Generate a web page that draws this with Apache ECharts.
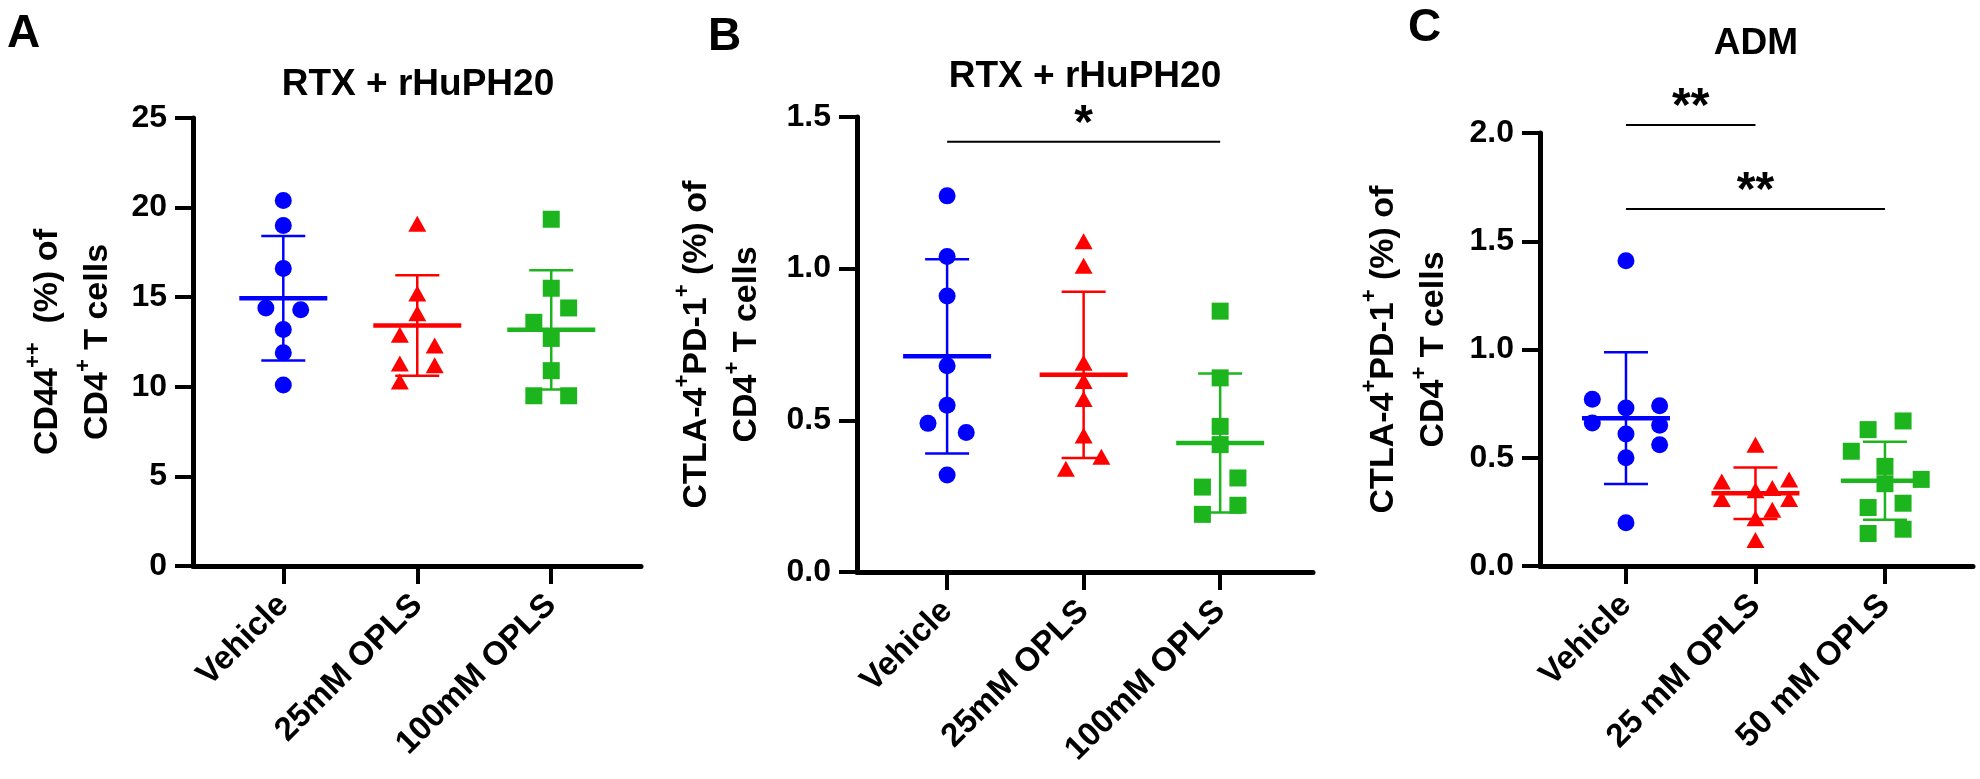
<!DOCTYPE html>
<html>
<head>
<meta charset="utf-8">
<script src="https://cdn.jsdelivr.net/npm/echarts@6/dist/echarts.min.js"></script>
<style>
  html, body { margin: 0; padding: 0; background: #fff; }
  #main { width: 1980px; height: 779px; }
</style>
</head>
<body>
<div id="main"></div>
<script>
"use strict";

// categories
const catsAB = ["Vehicle", "25mM OPLS", "100mM OPLS"];
const catsC = ["Vehicle", "25 mM OPLS", "50 mM OPLS"];

// panel A: CD44++ (%) of CD4+ T cells
const aVehicle = [20.4, 19.0, 16.6, 14.4, 14.3, 13.2, 11.9, 10.1];
const aVehicleJit = [0, 0, 0, -0.13, 0.13, 0, 0, 0];
const a25 = [19.1, 15.2, 14.1, 12.9, 12.3, 11.3, 11.2, 10.3];
const a25Jit = [0, 0, 0, -0.13, 0.13, -0.13, 0.13, -0.13];
const a100 = [19.35, 15.5, 14.4, 13.6, 12.7, 10.9, 9.5, 9.5];
const a100Jit = [0, 0, 0.13, -0.13, 0, 0, -0.13, 0.13];
const aMean = [14.94, 13.42, 13.18];
const aSd = [3.47, 2.81, 3.33];

// panel B: CTLA-4+PD-1+ (%) of CD4+ T cells
const bVehicle = [1.24, 1.04, 0.91, 0.68, 0.55, 0.49, 0.46, 0.32];
const bVehicleJit = [0, 0, 0, 0, 0, -0.14, 0.14, 0];
const b25 = [1.09, 1.01, 0.69, 0.63, 0.57, 0.45, 0.38, 0.34];
const b25Jit = [0, 0, 0, 0, 0, 0, 0.13, -0.13];
const b100 = [0.86, 0.64, 0.48, 0.42, 0.31, 0.28, 0.22, 0.19];
const b100Jit = [0, 0, 0, 0, 0.13, -0.13, 0.13, -0.13];
const bMean = [0.711, 0.65, 0.425];
const bSd = [0.32, 0.274, 0.229];

// panel C: ADM
const cVehicle = [1.41, 0.77, 0.66, 0.73, 0.61, 0.5, 0.2, 0.74, 0.65, 0.56];
const cVehicleJit = [0, -0.26, -0.26, 0, 0, 0, 0, 0.26, 0.26, 0.26];
const c25 = [0.56, 0.39, 0.31, 0.35, 0.22, 0.12, 0.36, 0.26, 0.4, 0.31];
const c25Jit = [0, -0.26, -0.26, 0, 0, 0, 0.13, 0.13, 0.26, 0.26];
const c50 = [0.67, 0.63, 0.53, 0.46, 0.38, 0.4, 0.27, 0.29, 0.17, 0.15];
const c50Jit = [0.14, -0.13, -0.26, 0, 0, 0.28, -0.13, 0.14, 0.14, -0.13];
const cMean = [0.683, 0.336, 0.394];
const cSd = [0.304, 0.119, 0.18];

// significance bars: [from, to, y, label]
const sigB = [[0, 2, 1.418, "*"]];
const sigC = [[0, 1, 2.037, "**"], [0, 2, 1.649, "**"]];

const colors = ["#0000ff", "#ff0000", "#1db51d"];
const symbols = ["circle", "triangle", "rect"];
const FONT = "'Liberation Sans', Arial, sans-serif";

let chartDom = document.getElementById("main");
let myChart = echarts.init(chartDom);

function points(vals, jit, idx) {
  return vals.map((v, i) => [idx + jit[i], v]);
}

function errorBars(mean, sd) {
  return mean.map((m, i) => [i, m, sd[i]]);
}

function renderErr(params, api) {
  const i = api.value(0);
  const m = api.value(1);
  const s = api.value(2);
  const pm = api.coord([i, m]);
  const pt = api.coord([i, m + s]);
  const pb = api.coord([i, m - s]);
  const c = colors[i];
  const thin = { stroke: c, lineWidth: 2.5 };
  return {
    type: "group",
    children: [
      { type: "line", shape: { x1: pt[0], y1: pt[1], x2: pb[0], y2: pb[1] }, style: thin },
      { type: "line", shape: { x1: pt[0] - 22, y1: pt[1], x2: pt[0] + 22, y2: pt[1] }, style: thin },
      { type: "line", shape: { x1: pb[0] - 22, y1: pb[1], x2: pb[0] + 22, y2: pb[1] }, style: thin },
      { type: "line", shape: { x1: pm[0] - 44, y1: pm[1], x2: pm[0] + 44, y2: pm[1] }, style: { stroke: c, lineWidth: 4.5 } },
    ],
  };
}

function sigSeries(sig, axisIdx) {
  return {
    type: "custom",
    xAxisIndex: axisIdx,
    yAxisIndex: axisIdx,
    renderItem: (params, api) => {
      const p1 = api.coord([api.value(0), api.value(2)]);
      const p2 = api.coord([api.value(1), api.value(2)]);
      return {
        type: "group",
        children: [
          { type: "line", shape: { x1: p1[0], y1: p1[1], x2: p2[0], y2: p2[1] }, style: { stroke: "#000", lineWidth: 2 } },
          {
            type: "text",
            x: (p1[0] + p2[0]) / 2,
            y: p1[1] - 17,
            style: {
              text: sig[params.dataIndex][3],
              fontSize: 48,
              fontWeight: "bold",
              fontFamily: FONT,
              align: "center",
              verticalAlign: "middle",
              fill: "#000",
            },
          },
        ],
      };
    },
    data: sig.map((d) => [d[0], d[1], d[2]]),
    encode: { x: [0, 1], y: 2 },
    clip: false,
    silent: true,
    z: 5,
  };
}

function scatter(data, idx, axisIdx) {
  return {
    type: "scatter",
    xAxisIndex: axisIdx,
    yAxisIndex: axisIdx,
    data: data,
    symbol: symbols[idx],
    symbolSize: idx === 1 ? [18, 16] : 17,
    itemStyle: { color: colors[idx], opacity: 1 },
    silent: true,
    z: 2,
  };
}

function errSeries(mean, sd, axisIdx) {
  return {
    type: "custom",
    xAxisIndex: axisIdx,
    yAxisIndex: axisIdx,
    renderItem: renderErr,
    data: errorBars(mean, sd),
    encode: { x: 0, y: 1 },
    clip: false,
    silent: true,
    z: 3,
  };
}

const tickLabel = { fontSize: 32, fontWeight: "bold", color: "#000", fontFamily: FONT };
const axisTick = { show: true, inside: false, length: 18, lineStyle: { color: "#000", width: 4 } };

function xAxis(gridIdx, cats, min, max) {
  return {
    type: "value",
    gridIndex: gridIdx,
    min: min,
    max: max,
    splitLine: { show: false },
    axisLine: { show: true, onZero: false, lineStyle: { color: "#000", width: 5 } },
    axisTick: Object.assign({ customValues: [0, 1, 2] }, axisTick),
    axisLabel: Object.assign(
      { customValues: [0, 1, 2], rotate: 45, margin: 34, formatter: (v) => cats[Math.round(v)] },
      tickLabel,
      { fontSize: 33 }
    ),
  };
}

function yAxis(gridIdx, max, interval, digits, name, nameGap) {
  return {
    type: "value",
    gridIndex: gridIdx,
    min: 0,
    max: max,
    interval: interval,
    splitLine: { show: false },
    axisLine: { show: true, onZero: false, lineStyle: { color: "#000", width: 5 } },
    axisTick: axisTick,
    axisLabel: Object.assign({ margin: 26, formatter: (v) => v.toFixed(digits) }, tickLabel),
    name: name,
    nameLocation: "middle",
    nameRotate: 90,
    nameGap: nameGap,
    nameTextStyle: {
      fontFamily: FONT,
      rich: {
        t: { fontSize: 34, fontWeight: "bold", lineHeight: 50, color: "#000", fontFamily: FONT },
        s: { fontSize: 22, fontWeight: "bold", lineHeight: 34, verticalAlign: "top", color: "#000", fontFamily: FONT },
      },
    },
  };
}

const nameA = "{t|CD44}{s|++}{t|  (%) of}\n{t|CD4}{s|+}{t| T cells}";
const nameBC = "{t|CTLA-4}{s|+}{t|PD-1}{s|+}{t| (%) of}\n{t|CD4}{s|+}{t| T cells}";

const titleStyle = { fontSize: 37, fontWeight: "bold", color: "#000", fontFamily: FONT };
const letterStyle = { fontSize: 46, fontWeight: "bold", color: "#000", fontFamily: FONT };

let option = {
  backgroundColor: "#fff",
  animation: false,
  title: [
    { text: "A", left: 7, top: 11, padding: 0, textStyle: letterStyle },
    { text: "B", left: 708, top: 14, padding: 0, textStyle: letterStyle },
    { text: "C", left: 1408, top: 5, padding: 0, textStyle: letterStyle },
    { text: "RTX + rHuPH20", left: 418, top: 66, padding: 0, textAlign: "center", textStyle: titleStyle },
    { text: "RTX + rHuPH20", left: 1085, top: 58, padding: 0, textAlign: "center", textStyle: titleStyle },
    { text: "ADM", left: 1756, top: 25, padding: 0, textAlign: "center", textStyle: titleStyle },
  ],
  grid: [
    { left: 193, top: 118, width: 448, height: 448 },
    { left: 857, top: 117, width: 456, height: 455 },
    { left: 1540, top: 133, width: 433, height: 433 },
  ],
  xAxis: [
    xAxis(0, catsAB, -0.674, 2.67),
    xAxis(1, catsAB, -0.66, 2.68),
    xAxis(2, catsC, -0.664, 2.68),
  ],
  yAxis: [
    yAxis(0, 25, 5, 0, nameA, 70),
    yAxis(1, 1.5, 0.5, 1, nameBC, 85),
    yAxis(2, 2, 0.5, 1, nameBC, 81),
  ],
  series: [
    scatter(points(aVehicle, aVehicleJit, 0), 0, 0),
    scatter(points(a25, a25Jit, 1), 1, 0),
    scatter(points(a100, a100Jit, 2), 2, 0),
    errSeries(aMean, aSd, 0),

    scatter(points(bVehicle, bVehicleJit, 0), 0, 1),
    scatter(points(b25, b25Jit, 1), 1, 1),
    scatter(points(b100, b100Jit, 2), 2, 1),
    errSeries(bMean, bSd, 1),
    sigSeries(sigB, 1),

    scatter(points(cVehicle, cVehicleJit, 0), 0, 2),
    scatter(points(c25, c25Jit, 1), 1, 2),
    scatter(points(c50, c50Jit, 2), 2, 2),
    errSeries(cMean, cSd, 2),
    sigSeries(sigC, 2),
  ],
};

option && myChart.setOption(option);
</script>
</body>
</html>
